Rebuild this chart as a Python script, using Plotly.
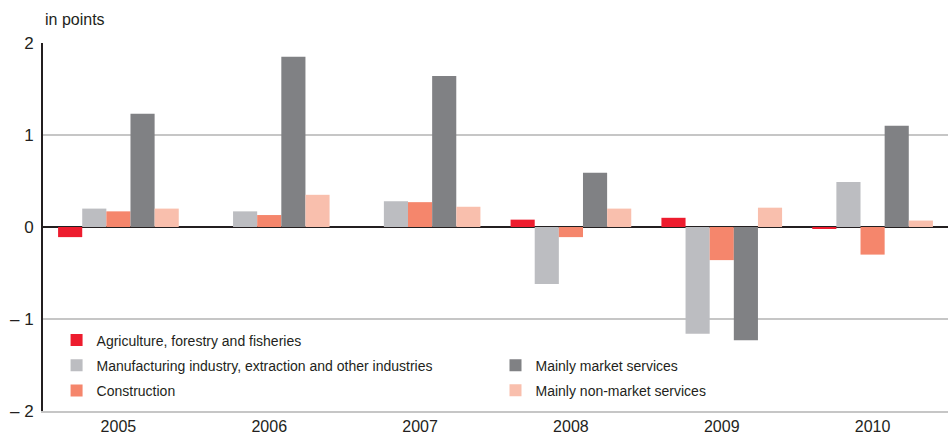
import plotly.graph_objects as go

years = ["2005", "2006", "2007", "2008", "2009", "2010"]
agriculture = [-0.11, 0.0, 0.0, 0.08, 0.10, -0.02]
manufacturing = [0.20, 0.17, 0.28, -0.62, -1.16, 0.49]
construction = [0.17, 0.13, 0.27, -0.11, -0.36, -0.30]
market = [1.23, 1.85, 1.64, 0.59, -1.23, 1.10]
non_market = [0.20, 0.35, 0.22, 0.20, 0.21, 0.07]

names = ["Agriculture, forestry and fisheries",
         "Manufacturing industry, extraction and other industries",
         "Construction",
         "Mainly market services",
         "Mainly non-market services"]
colors = ["#ED1C2E", "#BCBDC1", "#F5866C", "#808184", "#F9BFAD"]
series = [agriculture, manufacturing, construction, market, non_market]
legends = ["legend", "legend", "legend", "legend2", "legend2"]

ytick_vals = [-2, -1, 0, 1, 2]
ytick_text = ["\u2013 2", "\u2013 1", "0", "1", "2"]

FONT = "Liberation Sans Narrow, Arial Narrow, Liberation Sans, Arial, sans-serif"

fig = go.Figure()
for i, (n, c, s, lg) in enumerate(zip(names, colors, series, legends)):
    fig.add_trace(go.Bar(x=years, y=s, name=n, marker_color=c,
                         marker_line_width=0, legend=lg,
                         legendgroup=str(i)))

fig.update_layout(
    width=948, height=436,
    margin=dict(l=43, r=0, t=43, b=25, autoexpand=False),
    paper_bgcolor="white", plot_bgcolor="white",
    barmode="group", bargap=0.2, bargroupgap=0,
    font=dict(family=FONT, size=14, color="#231F20"),
    xaxis=dict(showgrid=False, showline=True, linecolor="#C6C6C6",
               linewidth=2, ticks="", zeroline=False,
               tickfont=dict(size=16), ticklabelstandoff=0),
    yaxis=dict(range=[-2, 2], tickvals=ytick_vals, ticktext=ytick_text,
               showgrid=True, gridcolor="#C6C6C6", gridwidth=2,
               zeroline=True, zerolinecolor="#231F20", zerolinewidth=2,
               showline=True, linecolor="#231F20", linewidth=2,
               ticks="", tickfont=dict(size=17), ticklabelstandoff=4),
    legend=dict(x=0.015, y=0.235, xanchor="left", yanchor="top",
                bgcolor="rgba(0,0,0,0)", font=dict(size=14),
                tracegroupgap=4, itemwidth=30),
    legend2=dict(x=0.5, y=0.167, xanchor="left", yanchor="top",
                 bgcolor="rgba(0,0,0,0)", font=dict(size=14),
                 tracegroupgap=4, itemwidth=30),
    showlegend=True,
    annotations=[dict(text="in points", x=0, xref="paper", y=1,
                      yref="paper", xanchor="left", yanchor="bottom",
                      yshift=13, showarrow=False, font=dict(size=16))],
)

fig.write_html("out.html", config={"displayModeBar": False},
               post_script="document.body.style.margin='0';"
                           "document.body.style.overflow='hidden';")
